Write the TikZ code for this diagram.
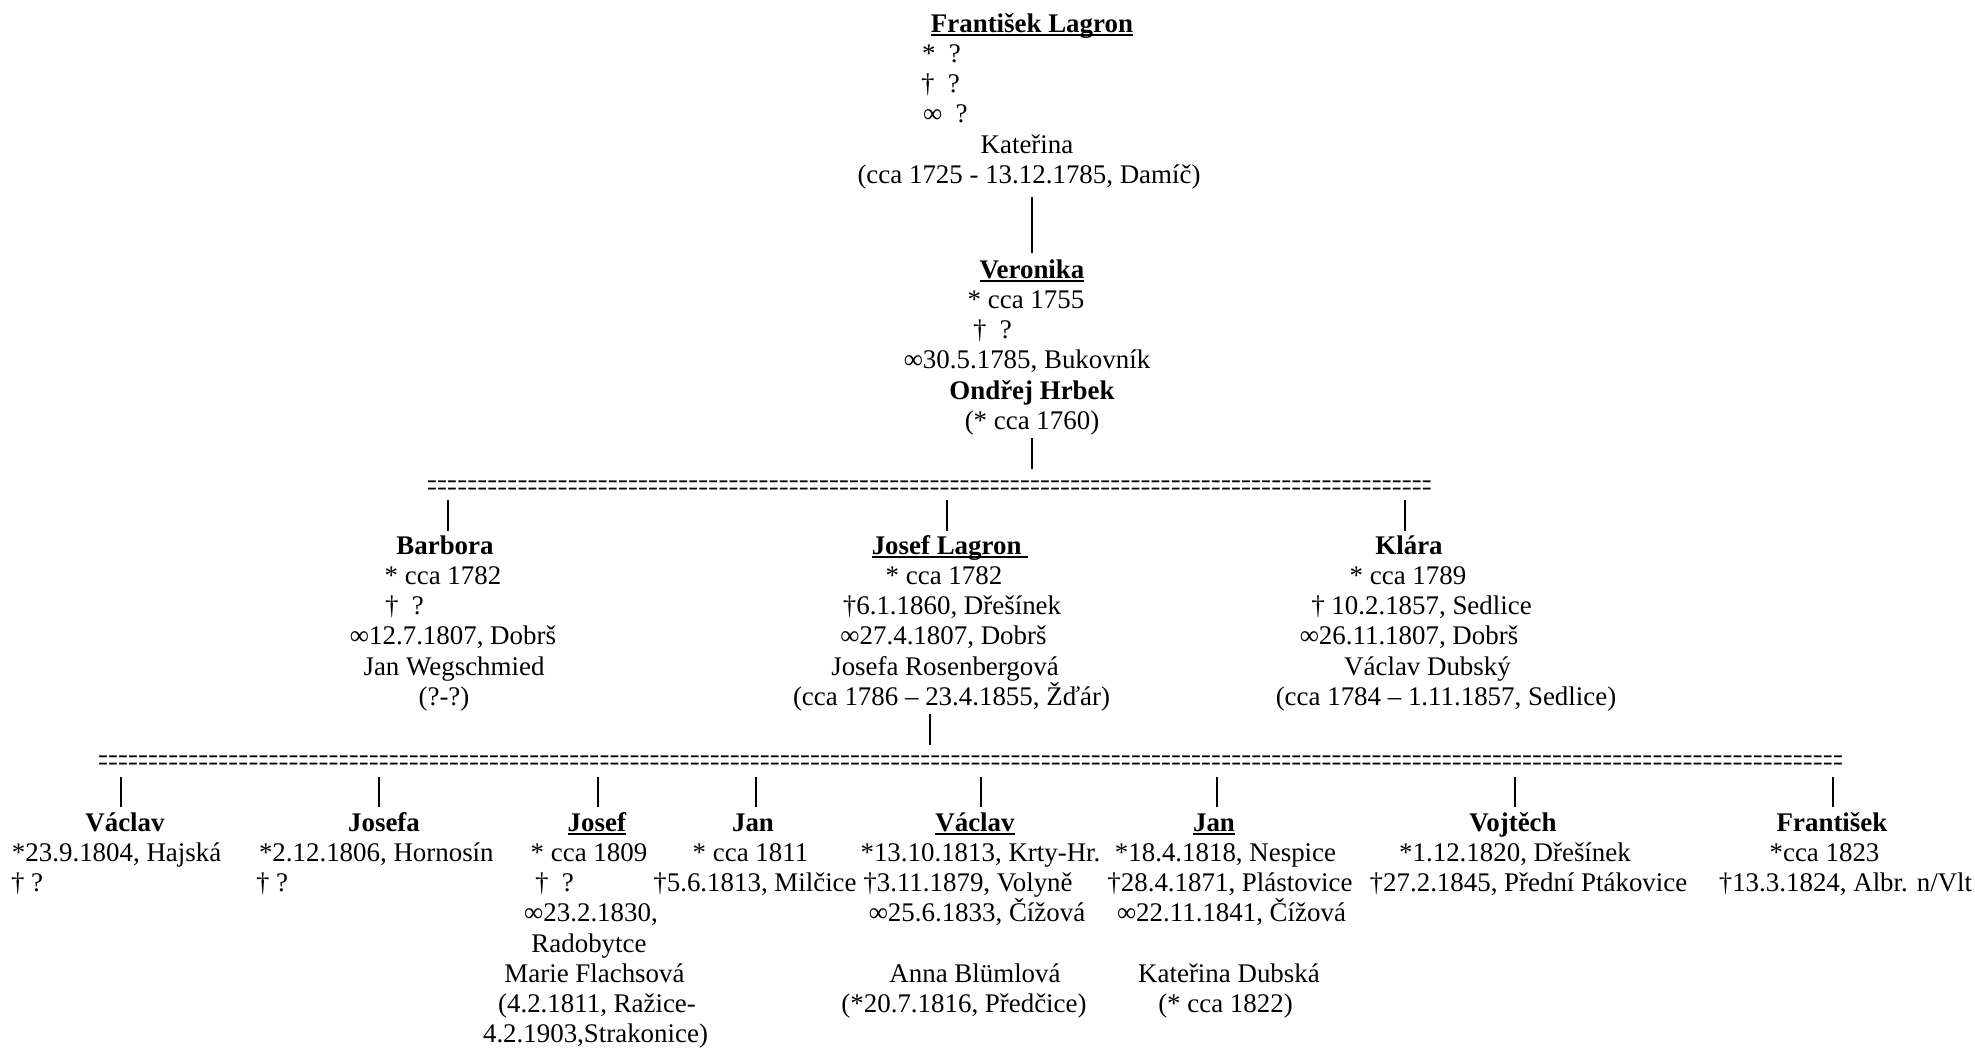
\documentclass[tikz,border=0pt]{standalone}
\usepackage{graphicx}
\usepackage{fontspec}
\setmainfont{Liberation Serif}
\newlength\px \setlength\px{0.446pt}
% line whose centre is #1 px right of the block x
\newcommand\Cx[2]{\smash{\makebox[0pt][c]{\hspace*{#1\px}\hspace*{#1\px}#2}}}
% line whose left edge is #1 px right of the block x
\newcommand\Lx[2]{\smash{\makebox[0pt][l]{\hspace*{#1\px}#2}}}
% underline at a fixed depth
\newcommand\ulx[1]{\setbox0\hbox{#1}\rlap{\rule[-1.8pt]{\wd0}{1.1pt}}\box0}
\newcommand\blk[1]{\begin{tabular}[t]{@{}c@{}}#1\end{tabular}}
\newcommand\eqrow[1]{\hbox to #1\px{\xleaders\hbox to 10\px{\hss\scalebox{0.62}[1.35]{=}\hss}\hfill}}
\tikzset{
  person/.style={inner sep=0pt, outer sep=0pt, anchor=base, font=\fontsize{12}{13.5}\selectfont},
  eqs/.style={inner sep=0pt, outer sep=0pt, anchor=base west, font=\fontsize{12}{13.5}\selectfont},
  tick/.style={line width=1.1pt}
}
\begin{document}
\begin{tikzpicture}[x=1\px, y=-1\px]
\useasboundingbox (0,0) rectangle (1975,1049);

% generation 1
\node[person] (fl) at (1032,32) {\blk{%
  \Cx{0}{\ulx{\textbf{František Lagron}}}\\
  \Lx{-110}{*\ \ ?}\\
  \Lx{-111}{†\ \ ?}\\
  \Lx{-109}{∞\ \ ?}\\
  \Cx{-5}{Kateřina}\\
  \Cx{-3}{(cca 1725 - 13.12.1785, Damíč)}}};

% generation 2
\node[person] (ver) at (1032,278) {\blk{%
  \Cx{0}{\ulx{\textbf{Veronika}}}\\
  \Cx{-6}{* cca 1755}\\
  \Lx{-59}{†\ \ ?}\\
  \Cx{-5}{∞30.5.1785, Bukovník}\\
  \Cx{0}{\textbf{Ondřej Hrbek}}\\
  \Cx{0}{(* cca 1760)}}};

\node[eqs] (eqA) at (427,497) {\eqrow{1005}};

% generation 3
\node[person] (bar) at (445,554) {\blk{%
  \Cx{0}{\textbf{Barbora}}\\
  \Cx{-2}{* cca 1782}\\
  \Lx{-60}{†\ \ ?}\\
  \Cx{8}{∞12.7.1807, Dobrš}\\
  \Cx{9}{Jan Wegschmied}\\
  \Cx{-1}{(?-?)}}};

\node[person] (jl) at (950,554) {\blk{%
  \Cx{0}{\ulx{\textbf{Josef Lagron\ }}}\\
  \Cx{-6}{* cca 1782}\\
  \Cx{2}{†6.1.1860, Dřešínek}\\
  \Cx{-6.5}{∞27.4.1807, Dobrš}\\
  \Cx{-5}{Josefa Rosenbergová}\\
  \Cx{1.5}{(cca 1786 – 23.4.1855, Žďár)}}};

\node[person] (kla) at (1409,554) {\blk{%
  \Cx{0}{\textbf{Klára}}\\
  \Cx{-1}{* cca 1789}\\
  \Cx{12.5}{† 10.2.1857, Sedlice}\\
  \Cx{0}{∞26.11.1807, Dobrš}\\
  \Cx{18.5}{Václav Dubský}\\
  \Cx{37}{(cca 1784 – 1.11.1857, Sedlice)}}};

\node[eqs] (eqB) at (98,772) {\eqrow{1745}};

% generation 4
\node[person] (c1) at (125,831) {\blk{%
  \Cx{0}{\textbf{Václav}}\\
  \Lx{-113}{*23.9.1804, Hajská}\\
  \Lx{-114}{† ?}}};

\node[person] (c2) at (384,831) {\blk{%
  \Cx{0}{\textbf{Josefa}}\\
  \Lx{-125}{*2.12.1806, Hornosín}\\
  \Lx{-128}{† ?}}};

\node[person] (c3) at (597,831) {\blk{%
  \Cx{0}{\ulx{\textbf{Josef}}}\\
  \Cx{-8}{* cca 1809}\\
  \Lx{-62}{†\ \ ?}\\
  \Cx{-6}{∞23.2.1830,}\\
  \Cx{-8}{Radobytce}\\
  \Cx{-2.5}{Marie Flachsová}\\
  \Cx{0}{(4.2.1811, Ražice-}\\
  \Cx{-1.5}{4.2.1903,Strakonice)}}};

\node[person] (c4) at (753,831) {\blk{%
  \Cx{0}{\textbf{Jan}}\\
  \Cx{-2.5}{* cca 1811}\\
  \Cx{2}{†5.6.1813, Milčice}}};

\node[person] (c5) at (975,831) {\blk{%
  \Cx{0}{\ulx{\textbf{Václav}}}\\
  \Cx{5.5}{*13.10.1813, Krty-Hr.}\\
  \Cx{-7}{†3.11.1879, Volyně}\\
  \Cx{2}{∞25.6.1833, Čížová}\\
  \Cx{0}{}\\
  \Cx{0}{Anna Blümlová}\\
  \Cx{-11}{(*20.7.1816, Předčice)}}};

\node[person] (c6) at (1214,831) {\blk{%
  \Cx{0}{\ulx{\textbf{Jan}}}\\
  \Cx{11.5}{*18.4.1818, Nespice}\\
  \Cx{16}{†28.4.1871, Plástovice}\\
  \Cx{17.5}{∞22.11.1841, Čížová}\\
  \Cx{0}{}\\
  \Cx{15}{Kateřina Dubská}\\
  \Cx{11.5}{(* cca 1822)}}};

\node[person] (c7) at (1513,831) {\blk{%
  \Cx{0}{\textbf{Vojtěch}}\\
  \Cx{2}{*1.12.1820, Dřešínek}\\
  \Cx{15.5}{†27.2.1845, Přední Ptákovice}}};

\node[person] (c8) at (1832,831) {\blk{%
  \Cx{0}{\textbf{František}}\\
  \Cx{-7.5}{*cca 1823}\\
  \Cx{13.5}{†13.3.1824, Albr. n/Vlt}}};

% connector end points
\coordinate (flB) at (1032,197);  \coordinate (verT) at (1032,253);
\coordinate (verB) at (1032,438); \coordinate (eqAT) at (1032,469);
\coordinate (barE) at (448,500);  \coordinate (barT) at (448,531);
\coordinate (jlE) at (947,500);   \coordinate (jlT) at (947,531);
\coordinate (klaE) at (1405,500); \coordinate (klaT) at (1405,531);
\coordinate (jlB) at (930,714);   \coordinate (eqBT) at (930,745);
\foreach \n/\xx in {c1/121,c2/379,c3/598,c4/756,c5/981,c6/1217,c7/1515,c8/1833}{
  \coordinate (\n E) at (\xx,777); \coordinate (\n T) at (\xx,807);
}

\draw[tick] (flB) -- (verT);
\draw[tick] (verB) -- (eqAT);
\draw[tick] (barE) -- (barT);
\draw[tick] (jlE) -- (jlT);
\draw[tick] (klaE) -- (klaT);
\draw[tick] (jlB) -- (eqBT);
\foreach \n in {c1,c2,c3,c4,c5,c6,c7,c8}{
  \draw[tick] (\n E) -- (\n T);
}
\end{tikzpicture}
\end{document}
